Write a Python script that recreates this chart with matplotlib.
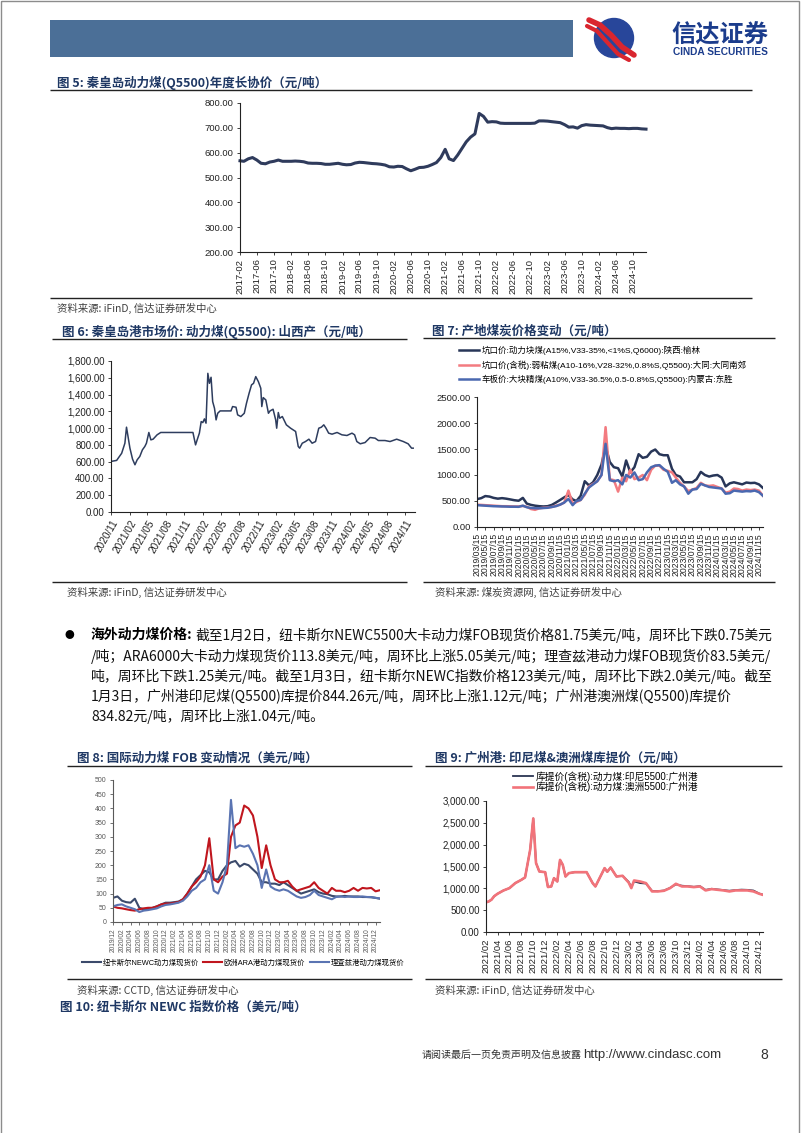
import matplotlib
matplotlib.use("Agg")
import matplotlib.pyplot as plt
from matplotlib.ticker import FuncFormatter
from matplotlib.patches import Rectangle, Circle
import pandas as pd

W, H = 802, 1133

# 图5 秦皇岛动力煤年度长协价, 月度
c5_months = pd.date_range("2017-02-01", "2025-01-01", freq="MS")
c5_price = [567, 565, 575, 580, 570, 557, 555, 562, 565, 570, 565,
            565, 565, 566, 565, 563, 558, 557, 557, 556, 553, 553, 555,
            557, 553, 551, 552, 558, 561, 560, 558, 556, 555, 553, 550,
            543, 542, 545, 544, 535, 527, 533, 540, 541, 545, 552, 560,
            580, 613, 575, 568, 590, 617, 643, 662, 675, 757, 745, 722,
            724, 723, 718, 717, 717, 717, 717, 717, 717, 717, 718, 727,
            727, 726, 724, 722, 720, 712, 702, 703, 698, 708, 712, 710,
            709, 708, 707, 700, 696, 698, 697, 697, 696, 697, 697, 695,
            694]

# 图6 秦皇岛港市场价 山西产
c6_dates = ['2020-11-01', '2020-11-29', '2020-12-24', '2021-01-09', '2021-01-17', '2021-02-03',
            '2021-02-16', '2021-02-28', '2021-03-11', '2021-03-24', '2021-04-06', '2021-04-18',
            '2021-04-26', '2021-05-08', '2021-05-18', '2021-05-29', '2021-06-18', '2021-07-06',
            '2021-12-13', '2021-12-26', '2022-01-03', '2022-01-14', '2022-01-23', '2022-01-31',
            '2022-02-08', '2022-02-16', '2022-02-25', '2022-03-05', '2022-03-13', '2022-03-21',
            '2022-03-30', '2022-04-07', '2022-04-15', '2022-04-27', '2022-06-20', '2022-06-28',
            '2022-07-15', '2022-07-23', '2022-08-08', '2022-08-25', '2022-09-05', '2022-09-18',
            '2022-09-30', '2022-10-10', '2022-10-21', '2022-11-03', '2022-11-15', '2022-11-20',
            '2022-11-27', '2022-12-10', '2022-12-23', '2022-12-31', '2023-01-15', '2023-01-28',
            '2023-02-02', '2023-02-10', '2023-02-17', '2023-03-02', '2023-03-22', '2023-04-12',
            '2023-05-07', '2023-05-20', '2023-05-27', '2023-06-09', '2023-06-25', '2023-07-12',
            '2023-07-28', '2023-08-14', '2023-08-30', '2023-09-12', '2023-09-24', '2023-10-05',
            '2023-10-18', '2023-11-04', '2023-11-29', '2023-12-23', '2024-01-17', '2024-02-11',
            '2024-02-24', '2024-03-06', '2024-03-23', '2024-04-16', '2024-05-11', '2024-06-05',
            '2024-06-21', '2024-07-24', '2024-08-18', '2024-09-20', '2024-10-23', '2024-11-16',
            '2024-12-03', '2024-12-11']
c6_price = [603, 615, 700, 820, 1011, 761, 630, 563, 622, 662,
            741, 781, 820, 948, 860, 868, 920, 948, 948, 800,
            860, 940, 1078, 1066, 1110, 1059, 1653, 1534, 1606, 1316,
            1237, 1098, 1177, 1205, 1205, 1257, 1249, 1158, 1138, 1177,
            1297, 1416, 1515, 1534, 1614, 1554, 1475, 1257, 1364, 1336,
            1177, 1205, 1225, 1098, 999, 1186, 1118, 1138, 1039, 999,
            960, 781, 761, 820, 840, 868, 820, 840, 999, 1011,
            1039, 999, 940, 928, 948, 920, 912, 940, 920, 840,
            813, 828, 888, 880, 852, 852, 840, 868, 840, 813,
            761, 761]

# 图7 产地煤炭价格 (每月15日)
c7_dates = pd.date_range("2019-03-01", "2024-12-01", freq="MS") + pd.Timedelta(days=14)
c7_yulin = [536, 555, 595, 585, 560, 545, 555, 545, 530, 515,
            505, 560, 450, 425, 410, 400, 395, 400, 425, 470,
            520, 570, 615, 530, 500, 600, 880, 800, 860, 1000,
            1200, 1560, 1250, 1150, 1130, 970, 1280, 1050, 1150, 1400,
            1330, 1350, 1450, 1490, 1400, 1380, 1380, 1120, 1000, 970,
            860, 860, 860, 920, 1060, 1000, 970, 990, 1000, 950,
            780, 840, 860, 840, 820, 855, 845, 850, 820, 750]
c7_datong = [430, 425, 420, 415, 410, 405, 400, 400, 398, 395,
             395, 405, 390, 345, 330, 360, 370, 375, 385, 410,
             430, 470, 700, 450, 480, 520, 620, 780, 830, 880,
             1000, 1920, 920, 900, 680, 950, 880, 1100, 920, 950,
             1000, 900, 1100, 1180, 1180, 1100, 1080, 1050, 950, 850,
             780, 690, 720, 750, 850, 800, 790, 800, 770, 740,
             660, 680, 740, 730, 700, 720, 710, 720, 700, 600]
c7_dongsheng = [420, 415, 410, 405, 400, 398, 395, 393, 390, 390,
                388, 410, 380, 365, 360, 360, 365, 370, 385, 400,
                430, 470, 540, 420, 500, 520, 640, 760, 820, 880,
                1000, 1600, 900, 880, 900, 820, 1000, 950, 1050, 900,
                920, 1050, 1150, 1180, 1190, 1120, 1060, 850, 900, 820,
                780, 640, 720, 730, 830, 800, 770, 760, 750, 740,
                640, 650, 700, 690, 680, 690, 685, 700, 670, 600]
c7_labels = ['坑口价:动力块煤(A15%,V33-35%,<1%S,Q6000):陕西:榆林',
             '坑口价(含税):弱粘煤(A10-16%,V28-32%,0.8%S,Q5500):大同:大同南郊',
             '车板价:大块精煤(A10%,V33-36.5%,0.5-0.8%S,Q5500):内蒙古:东胜']

# 图8 国际动力煤FOB (美元/吨)
c8_months = pd.date_range("2019-12-01", "2025-01-01", freq="MS")
c8_newc = [85, 90, 75, 70, 68, 82, 50, 45, 45, 50,
           55, 62, 68, 68, 70, 72, 80, 100, 125, 150,
           165, 180, 175, 150, 150, 180, 200, 210, 215, 195,
           205, 200, 185, 170, 140, 140, 135, 135, 130, 140,
           130, 120, 110, 100, 105, 110, 115, 105, 100, 98,
           92, 90, 90, 92, 90, 90, 90, 88, 88, 87,
           85, 82]
c8_ara = [55, 50, 48, 45, 42, 40, 45, 48, 50, 50,
          55, 62, 65, 65, 68, 70, 80, 100, 125, 140,
          160, 200, 295, 150, 140, 160, 170, 300, 340, 350,
          410, 400, 375, 300, 190, 270, 200, 150, 140, 140,
          145, 125, 110, 115, 120, 125, 140, 120, 110, 100,
          120, 110, 110, 105, 110, 120, 110, 120, 118, 120,
          108, 112]
c8_rb = [55, 60, 62, 55, 50, 45, 35, 40, 42, 45,
         48, 55, 60, 62, 65, 68, 75, 90, 110, 120,
         140, 150, 200, 110, 100, 140, 200, 430, 260, 270,
         265, 270, 240, 200, 120, 185, 125, 115, 110, 115,
         110, 100, 90, 85, 88, 95, 110, 95, 90, 85,
         80, 88, 90, 88, 90, 88, 88, 90, 88, 88,
         85, 83]
c8_labels = ['纽卡斯尔NEWC动力煤现货价', '欧洲ARA港动力煤现货价', '理查兹港动力煤现货价']

# 图9 广州港库提价
c9_dates = ['2021-02-01', '2021-02-15', '2021-03-01', '2021-03-15', '2021-04-01', '2021-05-01',
            '2021-06-01', '2021-07-01', '2021-08-01', '2021-08-20', '2021-09-01', '2021-09-15',
            '2021-10-01', '2021-10-15', '2021-11-01', '2021-12-01', '2021-12-15', '2022-01-01',
            '2022-01-15', '2022-02-01', '2022-02-15', '2022-03-01', '2022-03-15', '2022-04-01',
            '2022-05-01', '2022-06-01', '2022-07-01', '2022-08-01', '2022-08-15', '2022-09-01',
            '2022-10-01', '2022-10-15', '2022-11-01', '2022-12-01', '2023-01-01', '2023-02-01',
            '2023-02-15', '2023-03-01', '2023-04-01', '2023-05-01', '2023-06-01', '2023-07-01',
            '2023-08-01', '2023-09-01', '2023-10-01', '2023-11-01', '2023-12-01', '2024-01-01',
            '2024-02-01', '2024-03-01', '2024-04-01', '2024-05-01', '2024-06-01', '2024-07-01',
            '2024-08-01', '2024-09-01', '2024-10-01', '2024-11-01', '2024-12-01', '2024-12-20']
c9_indo = [678, 700, 740, 820, 875, 950, 1005, 1120, 1195, 1250,
           1540, 1880, 2600, 1580, 1386, 1370, 1030, 1043, 1233, 1157,
           1652, 1538, 1271, 1348, 1370, 1370, 1370, 1119, 1043, 1195,
           1462, 1380, 1477, 1271, 1287, 1150, 1030, 1160, 1120, 1110,
           940, 935, 950, 1010, 1090, 1060, 1050, 1035, 1050, 965,
           990, 975, 960, 945, 960, 970, 965, 950, 880, 855]
c9_aus = [678, 700, 740, 820, 875, 950, 1005, 1120, 1195, 1250,
          1540, 1880, 2600, 1580, 1386, 1370, 1030, 1043, 1233, 1157,
          1652, 1538, 1271, 1348, 1370, 1370, 1370, 1119, 1043, 1195,
          1462, 1380, 1477, 1271, 1287, 1134, 1005, 1180, 1157, 1119,
          929, 929, 944, 1005, 1104, 1043, 1043, 1028, 1043, 952,
          982, 967, 952, 929, 952, 952, 952, 929, 875, 850]
c9_labels = ['库提价(含税):动力煤:印尼5500:广州港', '库提价(含税):动力煤:澳洲5500:广州港']

para_lines = [
    '截至1月2日，纽卡斯尔NEWC5500大卡动力煤FOB现货价格81.75美元/吨，周环比下跌0.75美元',
    '/吨；ARA6000大卡动力煤现货价113.8美元/吨，周环比上涨5.05美元/吨；理查兹港动力煤FOB现货价83.5美元/',
    '吨，周环比下跌1.25美元/吨。截至1月3日，纽卡斯尔NEWC指数价格123美元/吨，周环比下跌2.0美元/吨。截至',
    '1月3日，广州港印尼煤(Q5500)库提价844.26元/吨，周环比上涨1.12元/吨；广州港澳洲煤(Q5500)库提价',
    '834.82元/吨，周环比上涨1.04元/吨。',
]

plt.rcParams['font.family'] = ['Liberation Sans', 'Noto Sans CJK SC', 'DejaVu Sans']
plt.rcParams['axes.unicode_minus'] = False
CJK = ['Noto Sans CJK SC', 'DejaVu Sans']
TITLE_C = '#1f3864'

fig = plt.figure(figsize=(W / 100, H / 100), dpi=100)
bg = fig.add_axes([0, 0, 1, 1])
bg.set_xlim(0, W)
bg.set_ylim(H, 0)
bg.axis('off')


def box(x0, y0, x1, y1):
    ax = fig.add_axes([x0 / W, 1 - y1 / H, (x1 - x0) / W, (y1 - y0) / H])
    ax.patch.set_alpha(0)
    return ax


def rule(x0, x1, y, lw=1.0, c='#222222'):
    bg.plot([x0, x1], [y, y], color=c, lw=lw, solid_capstyle='butt')


def title(x, y, s):
    bg.text(x, y, s, fontsize=9, fontweight='bold', color=TITLE_C, family=CJK, va='center', ha='left')


def source(x, y, s):
    bg.text(x, y, s, fontsize=7.5, color='#404040', family=CJK, va='center', ha='left')


def style(ax, fs, color='#222222'):
    for s in ['top', 'right']:
        ax.spines[s].set_visible(False)
    for s in ['left', 'bottom']:
        ax.spines[s].set_color(color)
        ax.spines[s].set_linewidth(0.8)
    ax.tick_params(labelsize=fs, colors=color, length=2.5, width=0.6, direction='out', pad=2)


def date_ticks(ax, ticks, fmt, rot, fs, **kw):
    ax.set_xticks(ticks)
    ax.set_xticklabels([t.strftime(fmt) for t in ticks], rotation=rot, fontsize=fs, **kw)


# page frame and header
bg.add_patch(Rectangle((1, 1), W - 4, H + 10, fill=False, edgecolor='#8c8c8c', lw=1))
bg.add_patch(Rectangle((50, 20), 523, 37, color='#4b6f97', lw=0))
bg.add_patch(Circle((614, 38), 19.5, color='#28469a', zorder=2))
bg.plot([589, 600, 611, 622, 634], [20, 25, 35, 47, 55], color='#d9262f', lw=4, solid_capstyle='round', zorder=3)
bg.plot([587, 597, 607, 618, 629], [26, 31, 42, 54, 60], color='#d9262f', lw=3, solid_capstyle='round', zorder=3)
bg.text(720, 36, '信达证券', fontsize=17.5, fontweight='bold', color='#1b3c8c', family=CJK, ha='center', va='center')
bg.text(720, 52, 'CINDA SECURITIES', fontsize=7.3, fontweight='bold', color='#1b3c8c', ha='center', va='center')

# ---------- 图5
title(57, 83, '图 5: 秦皇岛动力煤(Q5500)年度长协价（元/吨）')
rule(50, 752, 90)
ax5 = box(240, 102.7, 646, 252.3)
ax5.plot(c5_months, c5_price, color='#2f3b5c', lw=2.2, clip_on=False)
ax5.set_ylim(200, 800)
ax5.set_yticks(range(200, 801, 100))
ax5.yaxis.set_major_formatter(FuncFormatter(lambda v, p: f'{v:.2f}'))
ax5.set_xlim(c5_months[0], c5_months[-1])
style(ax5, 6.8)
date_ticks(ax5, pd.date_range('2017-02-01', '2024-10-01', freq='4MS'), '%Y-%m', 90, 6.8)
rule(50, 752, 298)
source(57, 308, '资料来源: iFinD, 信达证券研发中心')

# ---------- 图6
title(62, 332, '图 6: 秦皇岛港市场价: 动力煤(Q5500): 山西产（元/吨）')
rule(52, 407, 339)
ax6 = box(111, 361, 415, 512)
ax6.plot(pd.to_datetime(c6_dates), c6_price, color='#2e3d5e', lw=1.1)
ax6.set_ylim(0, 1800)
ax6.set_yticks(range(0, 1801, 200))
ax6.yaxis.set_major_formatter(FuncFormatter(lambda v, p: f'{v:,.2f}'))
ax6.set_xlim(pd.Timestamp('2020-11-01'), pd.Timestamp('2024-12-20'))
style(ax6, 7)
date_ticks(ax6, pd.date_range('2020-11-01', '2024-11-01', freq='3MS'), '%Y/%m', 60, 7.2,
           ha='right', rotation_mode='anchor')
rule(52, 407, 582)
source(67, 592, '资料来源: iFinD, 信达证券研发中心')

# ---------- 图7
title(432, 331, '图 7: 产地煤炭价格变动（元/吨）')
rule(423, 775, 338)
ax7 = box(477, 397, 763, 527)
l71, = ax7.plot(c7_dates, c7_yulin, color='#283658', lw=1.8)
l72, = ax7.plot(c7_dates, c7_datong, color='#f37b80', lw=1.8)
l73, = ax7.plot(c7_dates, c7_dongsheng, color='#4a68b0', lw=1.8)
ax7.set_ylim(0, 2500)
ax7.set_yticks(range(0, 2501, 500))
ax7.yaxis.set_major_formatter(FuncFormatter(lambda v, p: f'{v:.2f}'))
ax7.set_xlim(c7_dates[0], c7_dates[-1])
style(ax7, 6.8)
date_ticks(ax7, pd.date_range('2019-03-01', '2024-11-01', freq='2MS') + pd.Timedelta(days=14),
           '%Y/%m/%d', 90, 6.2)
fig.legend([l71, l72, l73], c7_labels, loc='upper left', bbox_to_anchor=(459 / W, 1 - 346 / H),
           frameon=False, fontsize=6.1, handlelength=2.4, handletextpad=0.25, labelspacing=0.6,
           borderpad=0, borderaxespad=0)
rule(423, 775, 582)
source(435, 592, '资料来源: 煤炭资源网, 信达证券研发中心')

# ---------- 段落
bg.text(69, 635, '●', fontsize=7, family=CJK, va='center', ha='center')
r = fig.canvas.get_renderer()
lead = bg.text(91, 635, '海外动力煤价格:', fontsize=10, fontweight='bold', family=CJK, va='center')
lx = lead.get_window_extent(renderer=r).x1 + 3
para_y = [635, 656, 676, 696, 716]
para_x = [lx, 91, 91, 91, 91]
for i, (s, y, x) in enumerate(zip(para_lines, para_y, para_x)):
    t = bg.text(x, y, s, fontsize=10, family=CJK, va='center', ha='left', color='#111111')
    if i < 3:
        bb = t.get_window_extent(renderer=r)
        t.set_fontsize(min(11, max(9, 10 * (774 - x) / bb.width)))

# ---------- 图8
title(77, 758, '图 8: 国际动力煤 FOB 变动情况（美元/吨）')
rule(67, 412, 766)
ax8 = box(113, 780, 380, 922)
l81, = ax8.plot(c8_months, c8_newc, color='#3b4a6b', lw=1.5)
l82, = ax8.plot(c8_months, c8_ara, color='#c0161e', lw=1.5)
l83, = ax8.plot(c8_months, c8_rb, color='#5a74b2', lw=1.5)
ax8.set_ylim(0, 500)
ax8.set_yticks(range(0, 501, 50))
ax8.set_xlim(c8_months[0], c8_months[-1])
style(ax8, 5, color='#595959')
date_ticks(ax8, pd.date_range('2019-12-01', '2024-12-01', freq='2MS'), '%Y/%m', 90, 4.8)
fig.legend([l81, l82, l83], c8_labels, loc='center', bbox_to_anchor=(243 / W, 1 - 963 / H), ncol=3,
           frameon=False, fontsize=5.3, handlelength=2.6, handletextpad=0.2, columnspacing=0.6,
           borderpad=0, borderaxespad=0)
rule(67, 412, 979)
source(77, 990, '资料来源: CCTD, 信达证券研发中心')
title(60, 1007, '图 10: 纽卡斯尔 NEWC 指数价格（美元/吨）')

# ---------- 图9
title(435, 758, '图 9: 广州港: 印尼煤&澳洲煤库提价（元/吨）')
rule(425, 782, 766)
ax9 = box(486, 801, 763, 932)
c9_x = pd.to_datetime(c9_dates)
l91, = ax9.plot(c9_x, c9_indo, color='#2b3553', lw=1.3)
l92, = ax9.plot(c9_x, c9_aus, color='#f2737a', lw=1.9)
ax9.set_ylim(0, 3000)
ax9.set_yticks(range(0, 3001, 500))
ax9.yaxis.set_major_formatter(FuncFormatter(lambda v, p: f'{v:,.2f}'))
ax9.set_xlim(c9_x[0], c9_x[-1])
style(ax9, 7)
date_ticks(ax9, pd.date_range('2021-02-01', '2024-12-01', freq='2MS'), '%Y/%m', 90, 6.8)
fig.legend([l91, l92], c9_labels, loc='upper left', bbox_to_anchor=(513 / W, 1 - 771 / H),
           frameon=False, fontsize=7, handlelength=2.1, handletextpad=0.2, labelspacing=0.0,
           borderpad=0, borderaxespad=0)
rule(425, 782, 979)
source(435, 990, '资料来源: iFinD, 信达证券研发中心')

# footer
bg.text(422, 1055, '请阅读最后一页免责声明及信息披露', fontsize=7.2, color='#333333', family=CJK, va='center')
bg.text(583, 1055, 'http://www.cindasc.com', fontsize=9.5, color='#333333', va='center')
bg.text(760, 1055, '8', fontsize=10, color='#333333', va='center')

fig.savefig('out.png', dpi=100)
